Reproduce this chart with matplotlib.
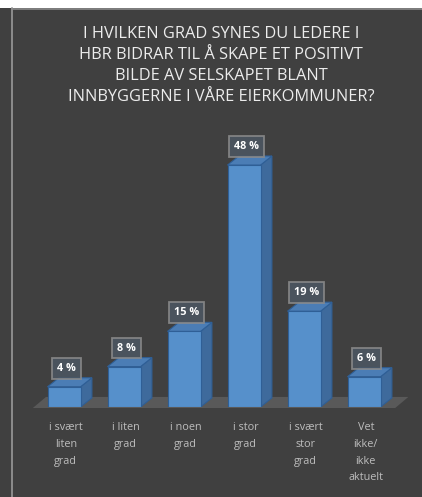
import matplotlib
matplotlib.use("Agg")
import matplotlib.pyplot as plt
from matplotlib.patches import Polygon, Rectangle
from matplotlib.lines import Line2D

# Data
categories = ["i svært\nliten\ngrad", "i liten\ngrad", "i noen\ngrad", "i stor\ngrad",
              "i svært\nstor\ngrad", "Vet\nikke/\nikke\naktuelt"]
values = [4, 8, 15, 48, 19, 6]
labels = ["4 %", "8 %", "15 %", "48 %", "19 %", "6 %"]
title = ("I HVILKEN GRAD SYNES DU LEDERE I\nHBR BIDRAR TIL Å SKAPE ET POSITIVT\n"
         "BILDE AV SELSKAPET BLANT\nINNBYGGERNE I VÅRE EIERKOMMUNER?")

bg = "#404040"
front_c = "#5690cb"
side_c = "#3e6a9c"
top_c = "#4b7db5"
edge_c = "#2f5f96"

W, H = 422, 497
fig = plt.figure(figsize=(W / 100, H / 100), dpi=100)
fig.patch.set_facecolor(bg)

# white strip on top + frame lines
fig.patches.append(Rectangle((0, 1 - 8 / H), 1, 8 / H, transform=fig.transFigure,
                             facecolor="white", edgecolor="none", zorder=0))
fig.lines.append(Line2D([11.5 / W, 11.5 / W], [0, 1 - 8 / H], transform=fig.transFigure,
                        color="#9a9a9a", lw=1.2))
fig.lines.append(Line2D([11.5 / W, 1], [1 - 8.5 / H, 1 - 8.5 / H], transform=fig.transFigure,
                        color="#8a8a8a", lw=1.2))

ax = fig.add_axes([28 / W, (H - 407) / H, 384 / W, 277.2 / H])
ax.set_facecolor("none")
ax.set_xlim(-0.6, 5.8)
ax.set_ylim(0, 55)
ax.axis("off")

bw = 0.55
dx = 0.19
dy = 1.8

# floor
n = len(values)
floor = Polygon([(-0.52, -0.2), (n - 1 + 0.52, -0.2),
                 (n - 1 + 0.52 + 0.22, dy + 0.2), (-0.52 + 0.22, dy + 0.2)],
                closed=True, facecolor="#595959", edgecolor="none", clip_on=False, zorder=1)
ax.add_patch(floor)

ax.bar(range(n), values, width=bw, color=front_c, edgecolor=edge_c, linewidth=0.8, zorder=3)
for i, v in enumerate(values):
    x0, x1 = i - bw / 2, i + bw / 2
    side = Polygon([(x1, 0), (x1 + dx, dy), (x1 + dx, v + dy), (x1, v)],
                   closed=True, facecolor=side_c, edgecolor=edge_c, lw=0.8, zorder=2)
    top = Polygon([(x0, v), (x1, v), (x1 + dx, v + dy), (x0 + dx, v + dy)],
                  closed=True, facecolor=top_c, edgecolor=edge_c, lw=0.8, zorder=2)
    ax.add_patch(side)
    ax.add_patch(top)
    ax.text(i + 0.04, v + dy + 0.8, labels[i], ha="center", va="bottom",
            fontsize=7.8, fontweight="bold", color="white", family="Open Sans", zorder=5,
            bbox=dict(boxstyle="square,pad=0.45", facecolor="#4c5763", alpha=0.85,
                      edgecolor="#8c8c8c", lw=1.3))
    ax.text(i + 0.03, -3.0, categories[i], ha="center", va="top", fontsize=7.8,
            color="#bdbdbd", family="Open Sans", linespacing=1.72, clip_on=False)

fig.text(221 / W, 1 - 26 / H, title, ha="center", va="top", fontsize=11.8,
         color="#ececec", family="Open Sans", linespacing=1.42)

fig.savefig("out.png", dpi=100, facecolor=fig.get_facecolor())
